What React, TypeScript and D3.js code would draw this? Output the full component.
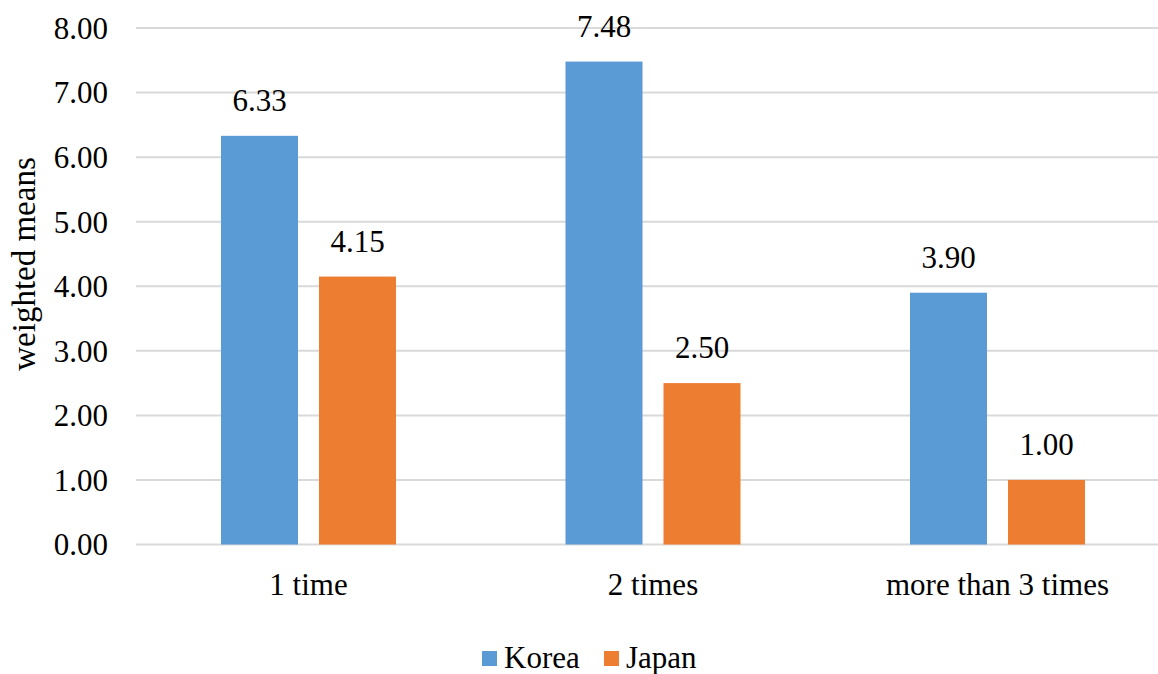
import React from "react";
import * as d3 from "d3";

const categories = ["1 time", "2 times", "more than 3 times"];
const seriesNames = ["Korea", "Japan"];
const korea = [6.33, 7.48, 3.9];
const japan = [4.15, 2.5, 1.0];
const yTicks = [0, 1, 2, 3, 4, 5, 6, 7, 8];

const colors = ["#5B9BD5", "#ED7D31"];
const W = 1158;
const H = 674;
const FONT = '"Liberation Serif", "DejaVu Serif", "Times New Roman", serif';
const txt: React.CSSProperties = { fontFamily: FONT, fontSize: 31, fill: "#000" };

export default function App() {
  const x = d3
    .scaleBand<string>()
    .domain(categories)
    .range([136.25, 136.25 + 3 * 344.5])
    .paddingInner(0)
    .paddingOuter(0);
  const y = d3.scaleLinear().domain([0, 8]).range([544.5, 28]);
  const barW = 77;
  const gap = 21;
  const series = [korea, japan];

  return (
    <svg width={W} height={H} style={{ position: "absolute", left: 0, top: 0, background: "#fff" }}>
      <rect x={0} y={0} width={W} height={H} fill="#fff" />
      {yTicks.map((t) => (
        <g key={t}>
          <line x1={136} x2={W} y1={y(t)} y2={y(t)} stroke="#D9D9D9" strokeWidth={2} />
          <text x={108} y={y(t)} dy="0.35em" textAnchor="end" style={txt}>
            {d3.format(".2f")(t)}
          </text>
        </g>
      ))}
      {categories.map((c, i) => {
        const cx = (x(c) as number) + x.bandwidth() / 2;
        return (
          <g key={c}>
            {series.map((s, j) => {
              const bx = cx - gap / 2 - barW + j * (barW + gap);
              return (
                <g key={j}>
                  <rect x={bx} y={y(s[i])} width={barW} height={y(0) - y(s[i])} fill={colors[j]} />
                  <text x={bx + barW / 2} y={y(s[i]) - 25} textAnchor="middle" style={txt}>
                    {d3.format(".2f")(s[i])}
                  </text>
                </g>
              );
            })}
            <text x={cx} y={595} textAnchor="middle" style={txt}>
              {c}
            </text>
          </g>
        );
      })}
      <text transform={`translate(35, 264) rotate(-90)`} textAnchor="middle" style={{ ...txt, fontSize: 33 }}>
        weighted means
      </text>
      <g>
        <rect x={482} y={651} width={15} height={15} fill={colors[0]} />
        <text x={504} y={668} style={txt}>
          {seriesNames[0]}
        </text>
        <rect x={604} y={651} width={15} height={15} fill={colors[1]} />
        <text x={626} y={668} style={txt}>
          {seriesNames[1]}
        </text>
      </g>
    </svg>
  );
}
